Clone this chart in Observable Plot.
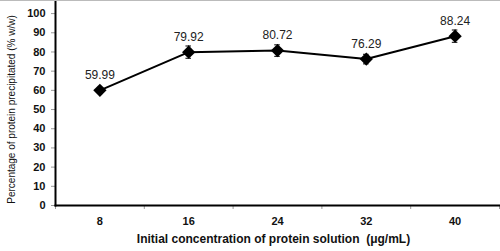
<!DOCTYPE html>
<html><head><meta charset="utf-8">
<script src="https://cdn.jsdelivr.net/npm/d3@7"></script>
<script src="https://cdn.jsdelivr.net/npm/@observablehq/plot@0.6"></script>
<style>
html,body{margin:0;padding:0;background:#fff;}
#chart{width:500px;height:251px;border-top:1px solid #bbb;box-sizing:border-box;overflow:hidden;}
</style>
</head><body><div id="chart"></div>
<script>
const concentrations = [8, 16, 24, 32, 40];
const precipitated = [59.99, 79.92, 80.72, 76.29, 88.24];
const errors = [1.0, 3.2, 3.0, 2.5, 3.2];
const labels = ["59.99", "79.92", "80.72", "76.29", "88.24"];
const yTicks = [0, 10, 20, 30, 40, 50, 60, 70, 80, 90, 100];
const xEdges = [4, 12, 20, 28, 36, 44];
const xLabel = "Initial concentration of protein solution  (μg/mL)";
const yLabel = "Percentage of protein precipitated (% w/w)";

const data = concentrations.map((c, i) => ({x: c, y: precipitated[i], e: errors[i], label: labels[i]}));

const chart = Plot.plot({
  width: 500,
  height: 250,
  marginLeft: 55,
  marginRight: 1,
  marginTop: 0,
  marginBottom: 46,
  style: {fontFamily: "'Liberation Sans', Arial, sans-serif", background: "#fff"},
  x: {domain: [4, 44]},
  y: {domain: [0, 106.3]},
  marks: [
    Plot.axisY({ticks: yTicks, tickSize: 4, tickPadding: 6, stroke: "#999", fontWeight: "bold", fontSize: 11, fill: "#111", label: null}),
    Plot.axisX({ticks: concentrations, tickSize: 0, tickPadding: 12, fontWeight: "bold", fontSize: 11, fill: "#111", label: null}),
    Plot.axisX({ticks: xEdges, tickSize: 4, stroke: "#999", text: null, label: null}),
    Plot.frame({anchor: "left", stroke: "#000", strokeWidth: 2}),
    Plot.frame({anchor: "bottom", stroke: "#000", strokeWidth: 2}),
    Plot.ruleX(data, {x: "x", y1: d => d.y - d.e, y2: d => d.y + d.e, stroke: "#000", strokeWidth: 1}),
    Plot.ruleY(data, {y: d => d.y - d.e, x1: d => d.x - 0.25, x2: d => d.x + 0.25, stroke: "#000", strokeWidth: 1}),
    Plot.ruleY(data, {y: d => d.y + d.e, x1: d => d.x - 0.25, x2: d => d.x + 0.25, stroke: "#000", strokeWidth: 1}),
    Plot.line(data, {x: "x", y: "y", stroke: "#000", strokeWidth: 2}),
    Plot.dot(data, {x: "x", y: "y", symbol: "diamond2", r: 6, fill: "#000", stroke: "none"}),
    Plot.text(data, {x: "x", y: "y", text: "label", dy: -15, fontSize: 12, fill: "#222"}),
    Plot.text([yLabel], {text: d => d, frameAnchor: "left", textAnchor: "middle", rotate: -90, dx: -44, dy: 6, fontSize: 10, fill: "#111"}),
    Plot.text([xLabel], {text: d => d, frameAnchor: "bottom", textAnchor: "middle", dx: -4, dy: 37, fontSize: 12, fontWeight: "bold", fill: "#111"})
  ]
});
document.getElementById("chart").appendChild(chart);
</script>
</body></html>
